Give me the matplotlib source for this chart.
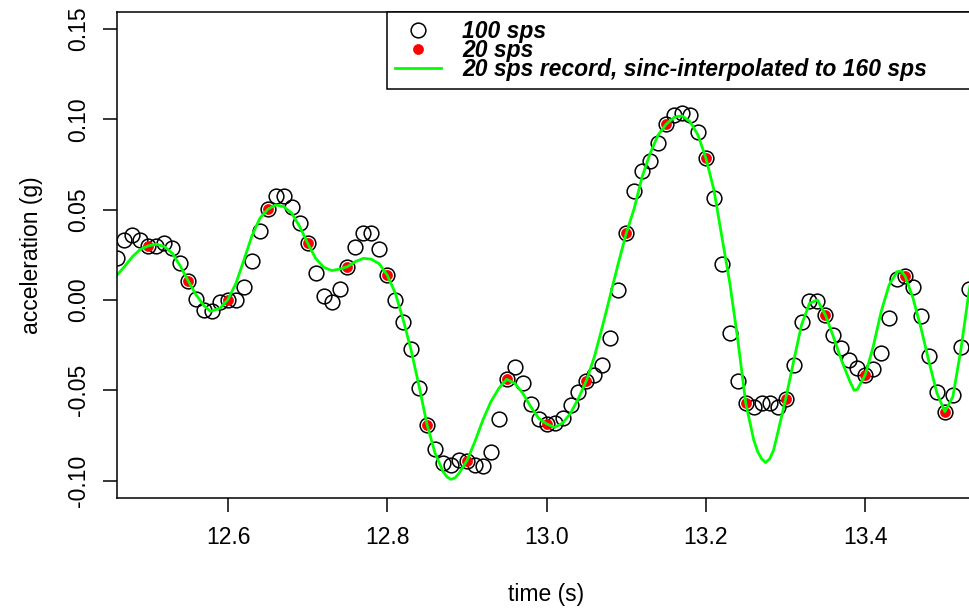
import matplotlib
matplotlib.use("Agg")
import matplotlib.pyplot as plt
import numpy as np

plt.rcParams['font.family'] = ['Liberation Sans', 'DejaVu Sans']
plt.rcParams['axes.unicode_minus'] = False

# 100 sps record, samples 12.46 s ... 13.54 s
t_100 = np.arange(1246, 1355) / 100.0
acc_100 = [0.0235, 0.0333, 0.0360, 0.0330, 0.0300, 0.0300, 0.0314, 0.0287, 0.0207, 0.0106,
           0.0004, -0.0055, -0.0059, -0.0009, 0.0000, 0.0000, 0.0071, 0.0218, 0.0384, 0.0503,
           0.0577, 0.0577, 0.0517, 0.0425, 0.0314, 0.0148, 0.0023, -0.0009, 0.0060, 0.0185,
           0.0292, 0.0373, 0.0373, 0.0281, 0.0137, 0.0002, -0.0121, -0.0270, -0.0485, -0.0692,
           -0.0826, -0.0904, -0.0913, -0.0886, -0.0889, -0.0913, -0.0919, -0.0840, -0.0659, -0.0439,
           -0.0369, -0.0457, -0.0577, -0.0660, -0.0686, -0.0682, -0.0651, -0.0581, -0.0507, -0.0446,
           -0.0415, -0.0359, -0.0208, 0.0058, 0.0370, 0.0606, 0.0715, 0.0772, 0.0872, 0.0973,
           0.1025, 0.1038, 0.1025, 0.0933, 0.0785, 0.0564, 0.0199, -0.0180, -0.0448, -0.0572,
           -0.0590, -0.0568, -0.0568, -0.0590, -0.0550, -0.0360, -0.0120, -0.0005, -0.0005, -0.0083,
           -0.0193, -0.0267, -0.0332, -0.0378, -0.0415, -0.0383, -0.0291, -0.0101, 0.0115, 0.0133,
           0.0074, -0.0088, -0.0310, -0.0507, -0.0618, -0.0526, -0.0258, 0.0060, 0.0300]

# 20 sps record
t_20 = np.arange(1250, 1351, 5) / 100.0
acc_20 = [0.0300, 0.0106, 0.0000, 0.0503, 0.0314, 0.0185, 0.0137, -0.0692, -0.0889, -0.0439,
          -0.0686, -0.0446, 0.0370, 0.0973, 0.0785, -0.0572, -0.0550, -0.0083, -0.0415, 0.0133,
          -0.0618]

# sinc-interpolated curve
t_sinc = [12.46, 12.47, 12.48, 12.49, 12.50, 12.51, 12.52, 12.53, 12.54, 12.55,
          12.56, 12.57, 12.578, 12.59, 12.60, 12.61, 12.62, 12.63, 12.64, 12.65,
          12.66, 12.67, 12.68, 12.69, 12.70, 12.71, 12.72, 12.73, 12.74, 12.75,
          12.76, 12.77, 12.78, 12.79, 12.80, 12.81, 12.82, 12.83, 12.84, 12.85,
          12.86, 12.87, 12.875, 12.88, 12.885, 12.89, 12.90, 12.91, 12.92, 12.93, 12.94, 12.95,
          12.96, 12.97, 12.98, 12.99, 13.00, 13.01, 13.02, 13.03, 13.04, 13.05,
          13.06, 13.07, 13.08, 13.09, 13.10, 13.11, 13.12, 13.13, 13.14, 13.15,
          13.16, 13.17, 13.18, 13.19, 13.20, 13.21, 13.22, 13.23, 13.24, 13.25,
          13.26, 13.265, 13.27, 13.275, 13.28, 13.285, 13.29, 13.30, 13.31, 13.32, 13.33, 13.34,
          13.35, 13.36, 13.37, 13.38, 13.386, 13.39, 13.40, 13.41, 13.42, 13.43,
          13.44, 13.445, 13.45, 13.46, 13.47, 13.48, 13.49, 13.50, 13.51, 13.52,
          13.53, 13.54]
acc_sinc = [0.0135, 0.0185, 0.0240, 0.0281, 0.0300, 0.0309, 0.0296, 0.0259, 0.0189, 0.0106,
            0.0028, -0.0033, -0.0062, -0.0046, 0.0004, 0.0093, 0.0222, 0.0355, 0.0453, 0.0503,
            0.0527, 0.0517, 0.0481, 0.0407, 0.0314, 0.0231, 0.0182, 0.0163, 0.0171, 0.0185,
            0.0213, 0.0231, 0.0226, 0.0200, 0.0137, 0.0038, -0.0110, -0.0280, -0.0480, -0.0692,
            -0.0849, -0.0950, -0.0980, -0.0993, -0.0985, -0.0960, -0.0889, -0.0784, -0.0664, -0.0563,
            -0.0489, -0.0439,
            -0.0461, -0.0516, -0.0590, -0.0655, -0.0686, -0.0705, -0.0682, -0.0627, -0.0544, -0.0446,
            -0.0313, -0.0147, 0.0028, 0.0204, 0.0370, 0.0508, 0.0684, 0.0813, 0.0914, 0.0973,
            0.1012, 0.1020, 0.0988, 0.0914, 0.0785, 0.0610, 0.0350, 0.0093, -0.0221, -0.0572,
            -0.0775, -0.0840, -0.0880, -0.0900, -0.0880, -0.0830, -0.0738, -0.0550, -0.0341, -0.0138,
            -0.0018, 0.0000,
            -0.0083, -0.0203, -0.0332, -0.0443, -0.0500, -0.0495, -0.0415, -0.0258, -0.0064, 0.0084,
            0.0157, 0.0160, 0.0133, 0.0010, -0.0156, -0.0341, -0.0516, -0.0618, -0.0535, -0.0276,
            0.0038, 0.0300]

labels = ['100 sps', '20 sps', '20 sps record, sinc-interpolated to 160 sps']
xticks = [12.6, 12.8, 13.0, 13.2, 13.4]
yticks = [-0.10, -0.05, 0.00, 0.05, 0.10, 0.15]

fs = 16.5
fig = plt.figure(figsize=(9.69, 6.09), dpi=100)
# plot region runs past the right edge of the picture
ax = fig.add_axes([116.5 / 969, (609 - 498.3) / 609, 876.2 / 969, (498.3 - 12) / 609])

ax.plot(t_100, acc_100, 'o', mfc='none', mec='black', ms=10.6, mew=1.1, label=labels[0])
ax.plot(t_20, acc_20, 'o', color='red', mec='red', ms=7.2, mew=0.5, label=labels[1])
ax.plot(t_sinc, acc_sinc, '-', color='#00ff00', lw=2.0, label=labels[2])

ax.set_xlim(12.46, 13.56)
ax.set_ylim(-0.1098, 0.1595)
ax.set_xticks(xticks)
ax.set_xticklabels(['%.1f' % v for v in xticks])
ax.set_yticks(yticks)
ax.set_yticklabels(['%.2f' % v for v in yticks], rotation=90, va='center')

for s in ax.spines.values():
    s.set_linewidth(1.1)
ax.tick_params(direction='out', length=10, width=1.1, labelsize=fs)
ax.tick_params(axis='x', pad=9.7)
ax.tick_params(axis='y', pad=9)

ax.set_xlabel('time (s)', fontsize=fs)
ax.set_ylabel('acceleration (g)', fontsize=fs)
ax.xaxis.set_label_coords((546 - 116.5) / 876.2, (498.3 - 583) / 486.3)
ax.yaxis.set_label_coords((43 - 116.5) / 876.2, 0.5)

leg = ax.legend(loc='upper left', bbox_to_anchor=(0.3084, 0.0, 0.6916, 1.0), mode='expand',
                borderaxespad=0, borderpad=0.34, labelspacing=-0.16, handlelength=2.03,
                handletextpad=0.92, fancybox=False, framealpha=1,
                prop={'size': fs, 'weight': 'bold', 'style': 'italic'})
leg.get_frame().set_edgecolor('black')
leg.get_frame().set_linewidth(1.1)

fig.savefig('out.png', dpi=100)
